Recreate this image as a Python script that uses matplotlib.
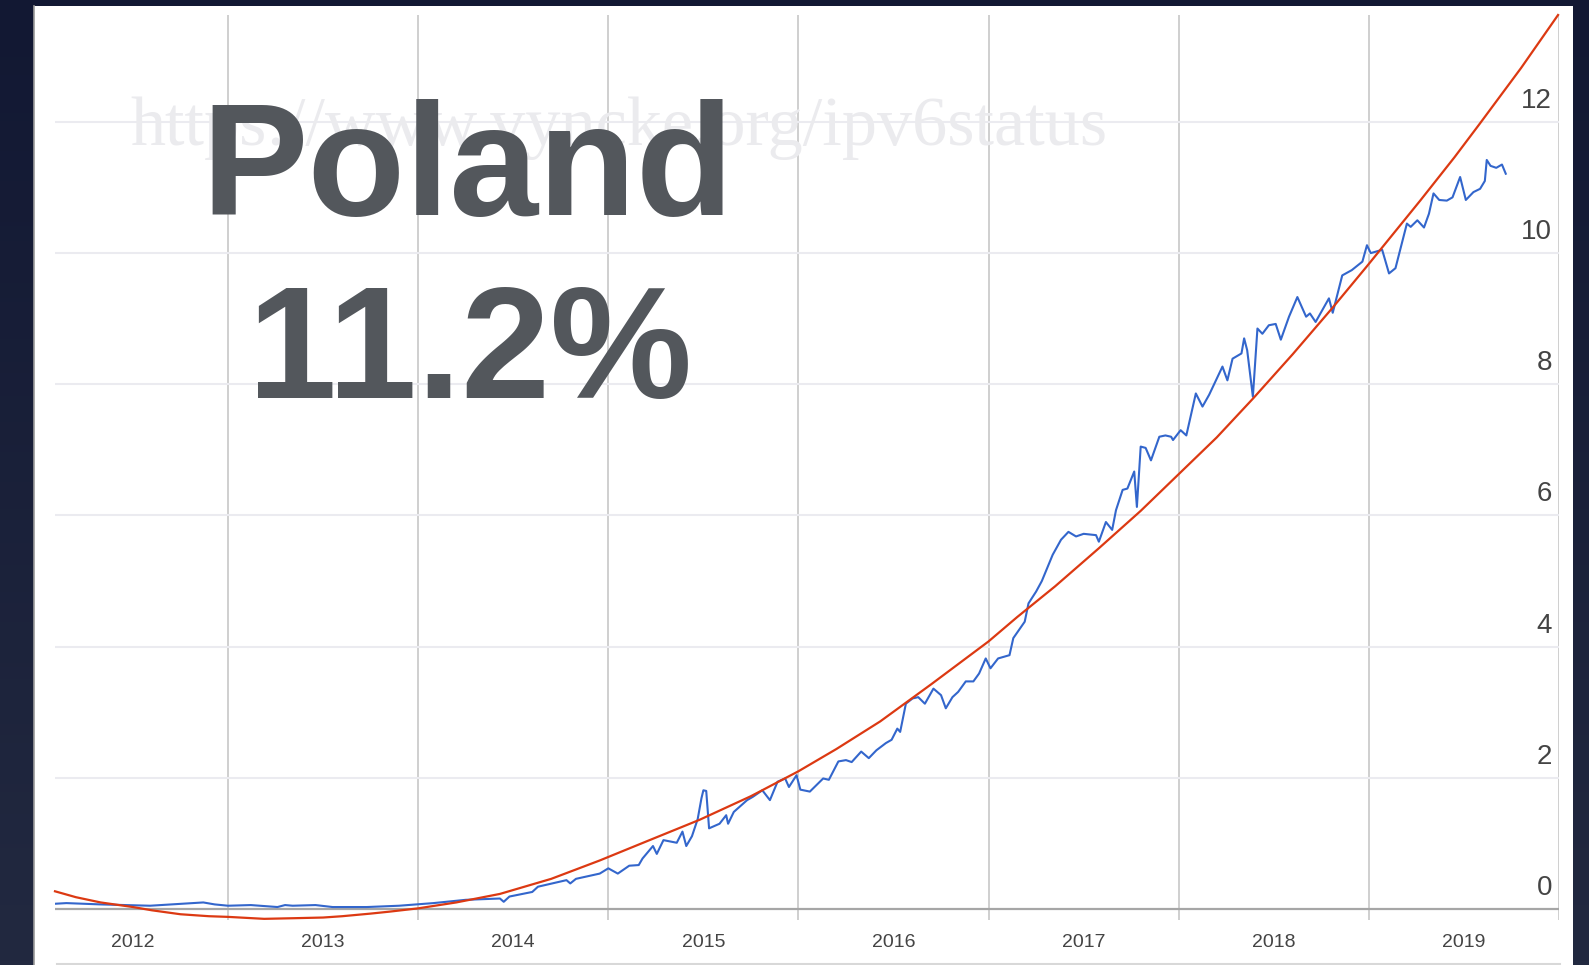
import numpy as np
import matplotlib
matplotlib.use("Agg")
import matplotlib.pyplot as plt
from matplotlib.patches import Rectangle
from matplotlib.colors import LinearSegmentedColormap

W, H = 1589, 965

# IPv6 share in Poland (%)
ipv6_years = [
    2012.09, 2012.15, 2012.33, 2012.45, 2012.59, 2012.76, 2012.87, 2012.93, 2013.00, 2013.12,
    2013.26, 2013.30, 2013.34, 2013.46, 2013.55, 2013.73, 2013.90, 2014.08, 2014.25, 2014.43,
    2014.45, 2014.48, 2014.60, 2014.63, 2014.78, 2014.80, 2014.83, 2014.955, 2015.00, 2015.05,
    2015.11, 2015.16, 2015.18, 2015.235, 2015.255, 2015.29, 2015.36, 2015.39, 2015.41, 2015.44,
    2015.47, 2015.49, 2015.50, 2015.515, 2015.53, 2015.585, 2015.62, 2015.63, 2015.66, 2015.73,
    2015.76, 2015.81, 2015.85, 2015.89, 2015.93, 2015.95, 2015.99, 2016.01, 2016.06, 2016.13,
    2016.16, 2016.21, 2016.25, 2016.28, 2016.33, 2016.37, 2016.41, 2016.46, 2016.49, 2016.52,
    2016.535, 2016.565, 2016.60, 2016.63, 2016.665, 2016.71, 2016.75, 2016.775, 2016.81, 2016.84,
    2016.88, 2016.92, 2016.95, 2016.985, 2017.01, 2017.05, 2017.11, 2017.13, 2017.19, 2017.21,
    2017.25, 2017.28, 2017.337, 2017.381, 2017.42, 2017.46, 2017.50, 2017.565, 2017.58, 2017.617,
    2017.65, 2017.67, 2017.705, 2017.73, 2017.766, 2017.78, 2017.80, 2017.826, 2017.854, 2017.898,
    2017.93, 2017.96, 2017.97, 2018.01, 2018.04, 2018.09, 2018.125, 2018.16, 2018.204, 2018.23,
    2018.256, 2018.283, 2018.33, 2018.344, 2018.36, 2018.39, 2018.414, 2018.44, 2018.474, 2018.51,
    2018.537, 2018.58, 2018.624, 2018.67, 2018.69, 2018.72, 2018.755, 2018.79, 2018.81, 2018.86,
    2018.91, 2018.966, 2018.99, 2019.01, 2019.07, 2019.106, 2019.14, 2019.20, 2019.22, 2019.255,
    2019.29, 2019.316, 2019.34, 2019.37, 2019.41, 2019.44, 2019.48, 2019.51, 2019.55, 2019.585,
    2019.61, 2019.62, 2019.64, 2019.67, 2019.70, 2019.72,
]
ipv6_share = [
    0.08, 0.09, 0.07, 0.06, 0.05, 0.08, 0.10, 0.07, 0.05, 0.06,
    0.03, 0.06, 0.05, 0.06, 0.03, 0.03, 0.05, 0.09, 0.14, 0.16,
    0.11, 0.19, 0.26, 0.34, 0.44, 0.39, 0.46, 0.54, 0.62, 0.54,
    0.66, 0.67, 0.77, 0.96, 0.84, 1.05, 1.01, 1.18, 0.96, 1.11,
    1.37, 1.69, 1.81, 1.80, 1.23, 1.30, 1.43, 1.30, 1.48, 1.66,
    1.71, 1.81, 1.66, 1.94, 1.99, 1.86, 2.04, 1.82, 1.79, 1.99,
    1.97, 2.25, 2.27, 2.24, 2.40, 2.30, 2.42, 2.53, 2.58, 2.75,
    2.70, 3.13, 3.21, 3.23, 3.13, 3.36, 3.26, 3.06, 3.23, 3.31,
    3.47, 3.47, 3.59, 3.82, 3.67, 3.82, 3.87, 4.13, 4.38, 4.66,
    4.84, 5.00, 5.40, 5.63, 5.75, 5.68, 5.72, 5.70, 5.60, 5.90,
    5.78, 6.08, 6.39, 6.41, 6.67, 6.13, 7.05, 7.03, 6.84, 7.20,
    7.22, 7.20, 7.15, 7.30, 7.22, 7.86, 7.66, 7.84, 8.11, 8.27,
    8.06, 8.39, 8.47, 8.70, 8.52, 7.81, 8.85, 8.77, 8.90, 8.92,
    8.68, 9.03, 9.33, 9.03, 9.08, 8.95, 9.13, 9.31, 9.09, 9.66,
    9.74, 9.87, 10.12, 10.00, 10.05, 9.69, 9.77, 10.45, 10.40, 10.50,
    10.39, 10.60, 10.91, 10.81, 10.80, 10.85, 11.16, 10.81, 10.93, 10.98,
    11.10, 11.42, 11.33, 11.30, 11.35, 11.21,
]

# trend curve (red)
trend_years = [2012.09, 2012.2, 2012.33, 2012.5, 2012.6, 2012.75, 2012.9, 2013.0, 2013.19,
               2013.35, 2013.5, 2013.6, 2013.75, 2013.85, 2014.0, 2014.2, 2014.43, 2014.7,
               2014.955, 2015.2, 2015.48, 2015.75, 2016.0, 2016.2, 2016.43, 2016.7, 2017.0,
               2017.15, 2017.35, 2017.58, 2017.8, 2018.0, 2018.2, 2018.39, 2018.6, 2018.81,
               2018.99, 2019.27, 2019.45, 2019.58, 2019.8, 2019.995]
trend_share = [0.27, 0.18, 0.10, 0.03, -0.02, -0.08, -0.11, -0.12, -0.15,
               -0.14, -0.13, -0.11, -0.07, -0.04, 0.01, 0.10, 0.23, 0.46,
               0.74, 1.03, 1.36, 1.72, 2.10, 2.44, 2.86, 3.43, 4.08,
               4.45, 4.92, 5.50, 6.07, 6.63, 7.19, 7.78, 8.46, 9.17,
               9.80, 10.80, 11.46, 11.96, 12.82, 13.63]

year_labels = ["2012", "2013", "2014", "2015", "2016", "2017", "2018", "2019"]
year_bounds = [2013, 2014, 2015, 2016, 2017, 2018, 2019, 2020]
y_ticks = [0, 2, 4, 6, 8, 10, 12]

fig = plt.figure(figsize=(W / 100, H / 100), dpi=100)

# dark slide background + white panel
bg = fig.add_axes([0, 0, 1, 1])
grad = LinearSegmentedColormap.from_list("bg", ["#121833", "#222940"])
bg.imshow(np.linspace(0, 1, 256).reshape(-1, 1), cmap=grad, aspect="auto",
          extent=[0, 1, 0, 1])
bg.add_patch(Rectangle((34 / W, 0), (1573 - 34) / W, (H - 6) / H,
                       facecolor="white", edgecolor="none"))
bg.plot([34 / W, 34 / W], [0, 1 - 6 / H], color="#9a9a9a", lw=1.2)
bg.plot([57 / W, 1560 / W], [1 - 963.5 / H] * 2, color="#d8d8d8", lw=1.5)
bg.set_xlim(0, 1)
bg.set_ylim(0, 1)
bg.axis("off")

# watermark and the big labels
fig.text(130 / W, 1 - 145 / H, "https://www.vyncke.org/ipv6status",
         family="Liberation Serif", fontsize=50.6, color="#ebebee",
         ha="left", va="baseline", zorder=1)
fig.text(201 / W, 1 - 215 / H, "Poland", family="Liberation Sans",
         weight="bold", fontsize=115, color="#53575c",
         ha="left", va="baseline", zorder=5)
fig.text(248 / W, 1 - 398 / H, "11.2%", family="Liberation Sans",
         weight="bold", fontsize=115, color="#53575c",
         ha="left", va="baseline", zorder=5)

ax = fig.add_axes([55 / W, 1 - 919.5 / H, 1504 / W, (919.5 - 15) / H])
ax.patch.set_alpha(0)
ax.set_xlim(2012.09, 2019.998)
ax.set_ylim(-0.16, 13.63)
for s in ax.spines.values():
    s.set_visible(False)

ax.set_xticks(year_bounds)
ax.set_xticklabels([])
ax.set_xticks([b - 0.5 for b in year_bounds], minor=True)
ax.set_xticklabels(year_labels, minor=True, family="Liberation Sans",
                   fontsize=14, color="#444444")
ax.tick_params(axis="x", which="both", length=0, pad=10.5)
ax.set_yticks([])
ax.grid(False)
for b in year_bounds:
    ax.axvline(b, color="#cccccc", lw=1.3, zorder=0)
for v in y_ticks[1:]:
    ax.axhline(v, color="#ebebf0", lw=1.5, zorder=0)
ax.axhline(0, color="#a6a6a6", lw=1.6, zorder=1)
for v in y_ticks:
    ax.annotate(str(v), xy=(1, v), xycoords=("axes fraction", "data"),
                xytext=(-7, 8), textcoords="offset pixels",
                ha="right", va="bottom", family="Liberation Sans",
                fontsize=20, color="#444444")

ax.plot(ipv6_years, ipv6_share, color="#3366cc", lw=1.5, zorder=3)
ax.plot(trend_years, trend_share, color="#dc3912", lw=1.6, zorder=4,
        clip_on=False)

fig.savefig("out.png", dpi=100, facecolor=fig.get_facecolor())
